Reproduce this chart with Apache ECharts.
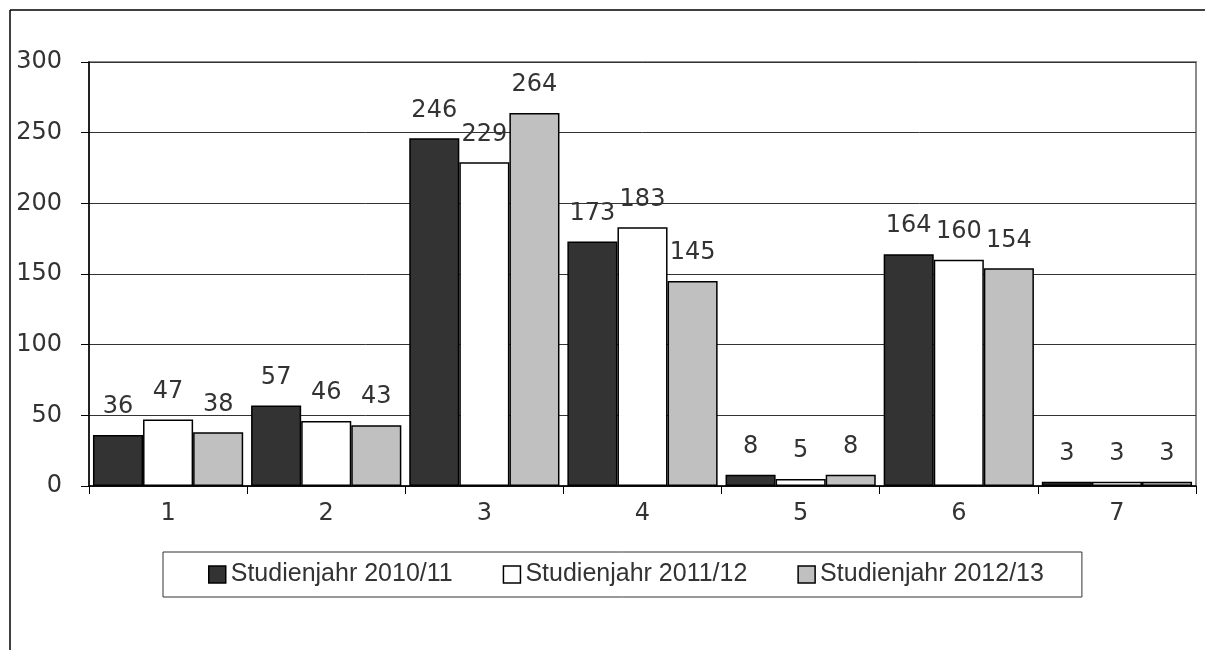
<!DOCTYPE html>
<html>
<head>
<meta charset="utf-8">
<script src="https://cdn.jsdelivr.net/npm/echarts@6/dist/echarts.min.js"></script>
<style>
  html, body { margin: 0; padding: 0; background: #fff; }
  #main { width: 1205px; height: 650px; }
</style>
</head>
<body>
<div id="main"></div>
<script>
// Kategorien und Werte
const categories = ['1', '2', '3', '4', '5', '6', '7'];
const seriesNames = ['Studienjahr 2010/11', 'Studienjahr 2011/12', 'Studienjahr 2012/13'];
const year2010 = [36, 57, 246, 173, 8, 164, 3];
const year2011 = [47, 46, 229, 183, 5, 160, 3];
const year2012 = [38, 43, 264, 145, 8, 154, 3];
const barColors = ['#333333', '#ffffff', '#c0c0c0'];

const chart = echarts.init(document.getElementById('main'));
const numFont = 'DejaVu Sans, sans-serif';
const textFont = 'Liberation Sans, Arial, sans-serif';
const textColor = '#333';

function makeSeries(name, data, color) {
  return {
    name: name,
    type: 'bar',
    data: data,
    barGap: '0%',
    barCategoryGap: '5%',
    itemStyle: { color: color, borderColor: '#000', borderWidth: 1.5 },
    label: {
      show: true,
      position: 'top',
      distance: 16,
      color: textColor,
      fontSize: 24,
      fontFamily: numFont
    }
  };
}

const option = {
  animation: false,
  backgroundColor: '#fff',
  textStyle: { fontFamily: numFont },
  graphic: [
    // Rahmen oben und links
    { type: 'line', shape: { x1: 10, y1: 10, x2: 1205, y2: 10 }, style: { stroke: '#000', lineWidth: 1.5 } },
    { type: 'line', shape: { x1: 10, y1: 10, x2: 10, y2: 650 }, style: { stroke: '#000', lineWidth: 1.5 } }
  ],
  grid: {
    left: 89,
    right: 9,
    top: 62,
    bottom: 164,
    show: true,
    borderColor: '#8c8c8c',
    borderWidth: 2
  },
  legend: {
    data: seriesNames,
    left: 163,
    top: 552,
    padding: [10, 38, 10, 45],
    borderColor: '#333',
    borderWidth: 1,
    itemWidth: 17,
    itemHeight: 17,
    itemGap: 50,
    icon: 'rect',
    itemStyle: { borderColor: '#000', borderWidth: 1.5 },
    textStyle: { fontSize: 25, color: textColor, fontFamily: textFont }
  },
  xAxis: {
    type: 'category',
    data: categories,
    axisLine: { lineStyle: { color: '#000', width: 1.5 } },
    axisTick: { show: true, length: 8, lineStyle: { color: '#000' } },
    axisLabel: { fontSize: 24, color: textColor, margin: 16, fontFamily: numFont }
  },
  yAxis: {
    type: 'value',
    min: 0,
    max: 300,
    interval: 50,
    axisLine: { show: true, lineStyle: { color: '#000', width: 1.5 } },
    axisTick: { show: true, length: 8, lineStyle: { color: '#000' } },
    axisLabel: { fontSize: 24, color: textColor, margin: 27, fontFamily: numFont },
    splitLine: { lineStyle: { color: '#333', width: 1 } }
  },
  series: [
    makeSeries(seriesNames[0], year2010, barColors[0]),
    makeSeries(seriesNames[1], year2011, barColors[1]),
    makeSeries(seriesNames[2], year2012, barColors[2])
  ]
};

chart.setOption(option);
</script>
</body>
</html>
